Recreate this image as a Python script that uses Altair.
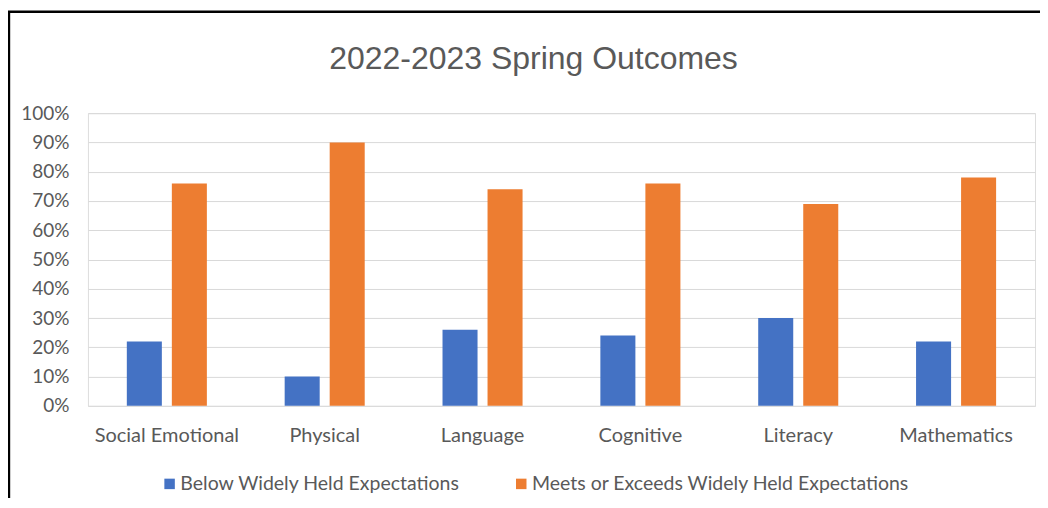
import altair as alt
import pandas as pd

categories = ["Social Emotional", "Physical", "Language", "Cognitive", "Literacy", "Mathematics"]
series = ["Below Widely Held Expectations", "Meets or Exceeds Widely Held Expectations"]
below = [22, 10, 26, 24, 30, 22]
meets = [76, 90, 74, 76, 69, 78]
colors = ["#4472C4", "#ED7D31"]
y_ticks = [0, 0.1, 0.2, 0.3, 0.4, 0.5, 0.6, 0.7, 0.8, 0.9, 1.0]

rows = []
for c, b, m in zip(categories, below, meets):
    rows.append({"category": c, "series": series[0], "value": b / 100})
    rows.append({"category": c, "series": series[1], "value": m / 100})
df = pd.DataFrame(rows)

W, H = 948, 293
TEXT = "#595959"
LABEL_FONT = "Lato"

bars = alt.Chart(df).mark_bar().encode(
    x=alt.X("category:N", sort=categories, title=None,
            scale=alt.Scale(paddingInner=0, paddingOuter=0),
            axis=alt.Axis(labelAngle=0, ticks=False, domain=False, labelPadding=20,
                          labelFontSize=20, labelColor=TEXT, labelFont=LABEL_FONT)),
    xOffset=alt.XOffset("series:N", sort=series,
                        scale=alt.Scale(paddingInner=0.222, paddingOuter=0.864)),
    y=alt.Y("value:Q", title=None,
            scale=alt.Scale(domain=[0, 1], nice=False),
            axis=alt.Axis(values=y_ticks, format=".0%", ticks=False, domain=False,
                          labelPadding=19, labelFontSize=19, labelColor=TEXT,
                          labelFont=LABEL_FONT, gridColor="#D9D9D9", gridWidth=1)),
    color=alt.Color("series:N", sort=series,
                    scale=alt.Scale(domain=series, range=colors),
                    legend=alt.Legend(title=None, orient="none", direction="horizontal",
                                      legendX=72, legendY=361, symbolType="square",
                                      symbolSize=110, symbolStrokeWidth=0,
                                      labelFontSize=19.5, labelColor=TEXT,
                                      labelFont=LABEL_FONT, labelOffset=1,
                                      columnPadding=51, labelLimit=500)),
)

frame = alt.Chart(alt.Data(values=[{"k": 1}])).mark_rect(
    fillOpacity=0, stroke="black", strokeWidth=2.4
).encode(
    x=alt.value(-79), x2=alt.value(1100),
    y=alt.value(-101.5), y2=alt.value(600),
)

chart = alt.layer(frame, bars).properties(
    width=W, height=H,
    title=alt.TitleParams("2022-2023 Spring Outcomes", font="Liberation Sans",
                          fontSize=32, fontWeight="normal", color=TEXT,
                          anchor="middle", dx=-28, offset=-66),
    autosize=alt.AutoSizeParams(type="none"),
    padding={"left": 80, "top": 105, "right": 5, "bottom": 92},
).configure_view(stroke=None).configure(background="white")

chart.save("out.html", embed_options={"renderer": "svg", "actions": False})
